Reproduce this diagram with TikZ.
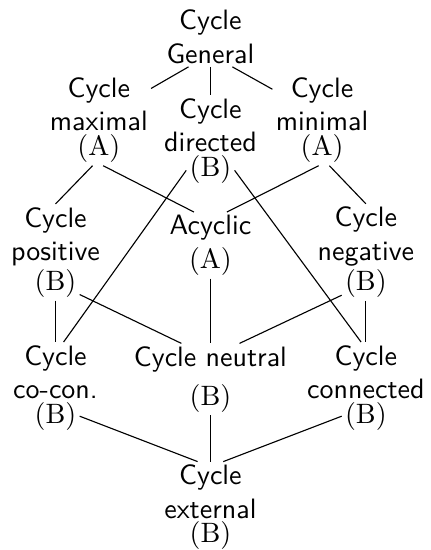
\documentclass[tikz,border=0pt]{standalone}
\usepackage{tikz}
\usetikzlibrary{positioning}

\begin{document}
\begin{tikzpicture}[
    node distance=-1.3pt,
    concept/.style={align=center, font=\sffamily, inner sep=1pt},
    tag/.style={font=\rmfamily, inner sep=1pt},
    link/.style={thin}
]
\useasboundingbox (0,0) rectangle (5.40,-6.90);

% the lattice, top to bottom
\node[concept] (gen) at (2.64,-0.46) {Cycle\\General};
\node[concept] (max) at (1.24,-1.31) {Cycle\\maximal};
\node[concept] (dir) at (2.64,-1.57) {Cycle\\directed};
\node[concept] (min) at (4.04,-1.31) {Cycle\\minimal};
\node[concept] (pos) at (0.696,-2.97) {Cycle\\positive};
\node[concept] (acy) at (2.64,-2.86) {Acyclic};
\node[concept] (neg) at (4.59,-2.97) {Cycle\\negative};
\node[concept] (coc) at (0.696,-4.67) {Cycle\\co-con.};
\node[concept] (neu) at (2.64,-4.51) {Cycle neutral};
\node[concept] (con) at (4.59,-4.67) {Cycle\\connected};
\node[concept] (ext) at (2.64,-6.17) {Cycle\\external};

% class tags
\node[tag, below=of max] (maxl) {(A)};
\node[tag, below=of dir] (dirl) {(B)};
\node[tag, below=of min] (minl) {(A)};
\node[tag, below=of pos] (posl) {(B)};
\node[tag, below=0pt of acy] (acyl) {(A)};
\node[tag, below=of neg] (negl) {(B)};
\node[tag, below=of coc] (cocl) {(B)};
\node[tag, below=1.8pt of neu] (neul) {(B)};
\node[tag, below=of con] (conl) {(B)};
\node[tag, below=of ext] (extl) {(B)};

\draw[link] (gen.234) -- (max.17);
\draw[link] (gen) -- (dir);
\draw[link] (gen.306) -- (min.163);
\draw[link] (maxl.250) -- (pos.north);
\draw[link] (maxl.284) -- (acy.136);
\draw[link] (dirl.183) -- (coc.75);
\draw[link] (dirl.357) -- (con.99);
\draw[link] (minl.259) -- (acy.44);
\draw[link] (minl.293) -- (neg.north);
\draw[link] (posl.335) -- (neu.151);
\draw[link] (acyl) -- (neu);
\draw[link] (negl.206) -- (neu.29);
\draw[link] (posl) -- (coc);
\draw[link] (negl) -- (con);
\draw[link] (cocl.east) -- (ext.113);
\draw[link] (neul) -- (ext);
\draw[link] (conl.west) -- (ext.67);
\end{tikzpicture}
\end{document}
